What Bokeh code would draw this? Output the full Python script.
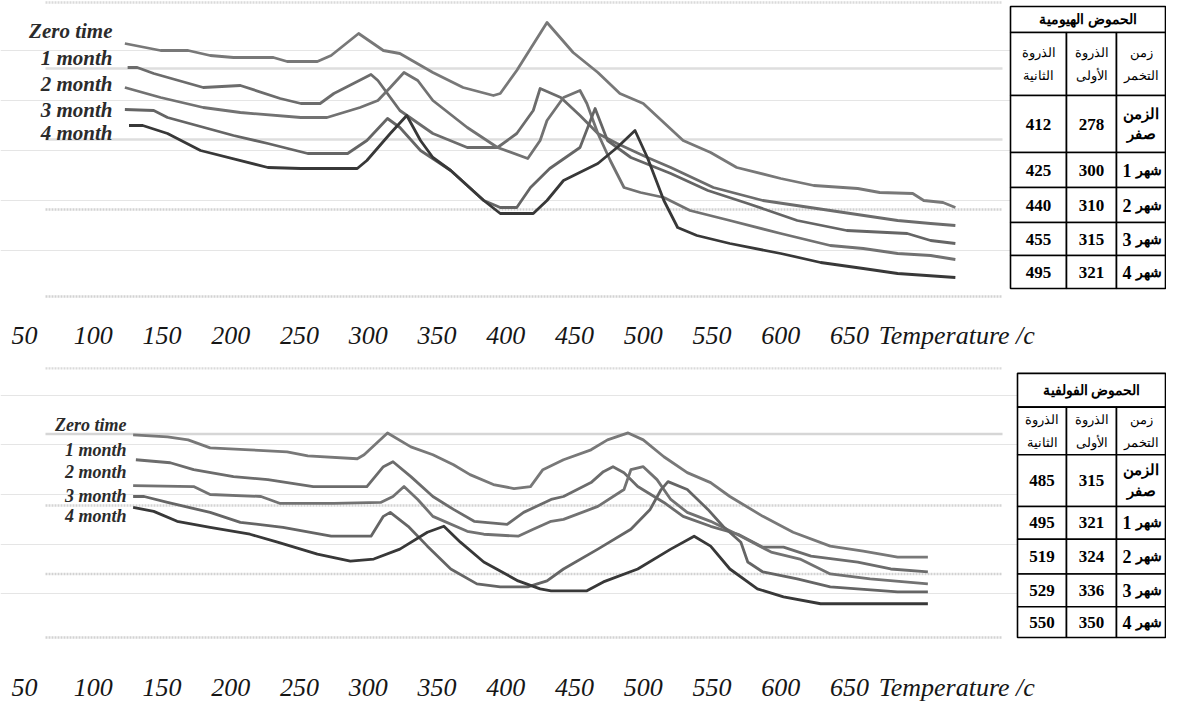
from bokeh.plotting import figure
from bokeh.models import Range1d, FixedTicker
from bokeh.layouts import column
from bokeh.embed import file_html
from bokeh.resources import INLINE
from bokeh.core.properties import value

# ---------------- data ----------------
series_names = ["Zero time", "1 month", "2 month", "3 month", "4 month"]
tick_temps = [50, 100, 150, 200, 250, 300, 350, 400, 450, 500, 550, 600, 650]
x_title = "Temperature /c"

# Humic acids (upper panel): temperature (C) and relative signal
ha_zero_T = [123, 149, 169, 185, 202, 231, 241, 263, 273, 293, 311, 323, 347, 369, 391, 396, 408, 430, 449, 467, 483, 500, 529, 549, 568, 600, 624, 656, 672, 696, 704, 718, 727]
ha_zero_S = [257, 250, 250, 245, 243, 243, 239, 239, 245, 267, 250, 247, 228, 213, 205, 207, 230, 278, 248, 228, 207, 197, 160, 148, 133, 122, 115, 112, 108, 107, 100, 98, 93]
ha_m1_T = [125, 132, 144, 180, 207, 236, 251, 265, 275, 302, 307, 323, 347, 372, 394, 408, 420, 425, 440, 454, 467, 481, 503, 520, 551, 587, 636, 685, 709, 727]
ha_m1_S = [233, 233, 227, 213, 215, 202, 197, 197, 207, 226, 220, 190, 167, 153, 153, 167, 190, 212, 203, 185, 167, 157, 143, 133, 113, 100, 90, 80, 77, 75]
ha_m2_T = [123, 149, 180, 207, 251, 270, 294, 307, 316, 326, 336, 347, 372, 394, 416, 425, 430, 442, 454, 459, 467, 476, 486, 498, 515, 534, 563, 600, 636, 660, 685, 709, 727]
ha_m2_S = [213, 203, 193, 188, 183, 183, 193, 200, 213, 228, 220, 200, 173, 153, 142, 160, 180, 203, 210, 197, 167, 140, 113, 108, 103, 90, 80, 67, 55, 52, 47, 45, 41]
ha_m3_T = [123, 144, 154, 202, 227, 256, 285, 299, 314, 323, 338, 360, 384, 396, 408, 418, 432, 454, 465, 474, 491, 520, 547, 576, 612, 648, 692, 709, 727]
ha_m3_S = [191, 190, 183, 165, 157, 147, 147, 160, 182, 173, 150, 130, 100, 93, 93, 113, 132, 153, 192, 160, 143, 127, 110, 97, 80, 70, 67, 60, 57]
ha_m4_T = [126, 136, 154, 178, 227, 251, 292, 299, 316, 328, 338, 347, 360, 384, 396, 420, 430, 442, 467, 481, 494, 503, 515, 525, 539, 563, 600, 629, 660, 685, 727]
ha_m4_S = [175, 175, 167, 150, 133, 132, 132, 140, 167, 185, 160, 143, 130, 100, 87, 87, 100, 120, 137, 153, 170, 143, 100, 73, 65, 57, 47, 38, 32, 27, 23]

# Fulvic acids (lower panel)
fa_zero_T = [129, 154, 169, 185, 214, 241, 256, 292, 297, 314, 331, 347, 362, 374, 391, 406, 418, 427, 442, 462, 474, 489, 500, 515, 532, 549, 563, 587, 609, 636, 660, 685, 707]
fa_zero_S = [210, 208, 205, 197, 195, 193, 189, 186, 190, 212, 198, 190, 180, 170, 160, 156, 158, 175, 185, 195, 205, 212, 205, 188, 172, 162, 148, 128, 112, 98, 93, 87, 87]
fa_m1_T = [131, 156, 173, 202, 227, 260, 299, 311, 318, 331, 347, 362, 377, 401, 413, 433, 442, 462, 471, 478, 486, 496, 515, 529, 549, 569, 587, 602, 622, 656, 680, 707]
fa_m1_S = [185, 182, 175, 168, 165, 158, 158, 178, 183, 168, 148, 135, 123, 120, 132, 145, 148, 162, 173, 178, 172, 158, 142, 128, 118, 110, 97, 97, 88, 82, 75, 72]
fa_m2_T = [129, 173, 185, 222, 236, 275, 309, 318, 326, 336, 347, 372, 384, 409, 420, 433, 442, 467, 486, 491, 500, 510, 520, 532, 549, 571, 593, 614, 636, 665, 707]
fa_m2_S = [159, 158, 150, 148, 141, 141, 142, 148, 158, 145, 128, 113, 110, 108, 115, 123, 125, 138, 155, 175, 178, 165, 145, 132, 123, 108, 92, 85, 70, 65, 60]
fa_m3_T = [129, 137, 154, 185, 207, 238, 273, 302, 311, 316, 329, 343, 360, 379, 396, 416, 430, 442, 467, 491, 505, 513, 518, 532, 547, 558, 571, 576, 587, 612, 636, 685, 707]
fa_m3_S = [148, 148, 142, 132, 122, 117, 108, 108, 128, 132, 118, 98, 75, 60, 57, 57, 63, 75, 95, 115, 135, 155, 163, 155, 135, 118, 102, 82, 72, 65, 57, 52, 52]
fa_m4_T = [129, 144, 161, 185, 214, 234, 263, 287, 304, 323, 343, 355, 367, 384, 409, 425, 433, 459, 471, 496, 520, 537, 549, 563, 583, 602, 629, 707]
fa_m4_S = [137, 133, 123, 117, 110, 102, 90, 83, 85, 95, 112, 118, 102, 82, 63, 55, 53, 53, 62, 75, 95, 108, 98, 75, 55, 47, 40, 40]

# Tables
ha_table_title = "الحموض الهيومية"
fa_table_title = "الحموض الفولفية"
header_time = "زمن\nالتخمر"
header_first = "الذروة\nالأولى"
header_second = "الذروة\nالثانية"
zero_row_label = "الزمن\nصفر"
month_word = "شهر"
month_numbers = ["1", "2", "3", "4"]
ha_first_peak = [278, 300, 310, 315, 321]
ha_second_peak = [412, 425, 440, 455, 495]
fa_first_peak = [315, 321, 324, 336, 350]
fa_second_peak = [485, 495, 519, 529, 550]

# ---------------- styling / layout ----------------
W = 1166
PX0, PX1 = 0, 1166               # pixel span of the frame
def t_at(px):                    # axis calibration: 50 C at px 24, 1.375 px per degree
    return 50 + (px - 24) / 1.375
TITLE_TICK = 728
line_colors = ["#787878", "#6c6c6c", "#727272", "#656565", "#383838"]
SERIF = "Liberation Serif"


def make_panel(top, fbottom, base, height, standoff, Ts, Ss, grids, label_right, label_ys,
               label_size, cols, rows, title, firsts, seconds):
    fh = fbottom - top
    p = figure(width=W, height=height, x_range=Range1d(t_at(PX0), t_at(PX1)),
               y_range=Range1d(base - fbottom, base - top), y_axis_location=None,
               toolbar_location=None, output_backend="svg", min_border_left=0,
               min_border_right=0, min_border_top=0, min_border_bottom=height - fh,
               outline_line_color=None, background_fill_color="white",
               border_fill_color="white")
    p.extra_x_ranges = {"px": Range1d(PX0, PX1)}
    p.extra_y_ranges = {"px": Range1d(fbottom, top)}
    p.xgrid.visible = False

    ax = p.xaxis[0]
    ax.ticker = FixedTicker(ticks=tick_temps + [TITLE_TICK])
    ax.major_label_overrides = {TITLE_TICK: x_title}
    ax.axis_line_color = None
    ax.major_tick_line_color = None
    ax.minor_tick_line_color = None
    ax.major_tick_out = 0
    ax.minor_tick_out = 0
    ax.major_tick_in = 0
    ax.major_label_standoff = standoff
    ax.major_label_text_font = SERIF
    ax.major_label_text_font_style = "italic"
    ax.major_label_text_font_size = "26px"
    ax.major_label_text_color = "#161616"

    # horizontal guide lines
    for gy, dash, col in grids:
        p.segment(x0=[45], x1=[1002], y0=[gy], y1=[gy], line_color=col, line_width=2.4,
                  line_dash=dash, x_range_name="px", y_range_name="px")

    # curves
    for T, S, c in zip(Ts, Ss, line_colors):
        p.line(T, S, line_color=c, line_width=2.8, line_join="round")

    # series labels
    p.text(x=[label_right] * 5, y=label_ys, text=series_names, text_align="right",
           text_baseline="middle", text_font=value(SERIF), text_font_style="bold italic",
           text_font_size=label_size, text_color="#2b2b2b", x_range_name="px", y_range_name="px")

    # table
    L, R, Tp, B = [cols[0]], [cols[3]], [rows[0]], [rows[1]]
    for r in range(1, 7):
        for c in range(3):
            L.append(cols[c]); R.append(cols[c + 1]); Tp.append(rows[r]); B.append(rows[r + 1])
    p.quad(left=L, right=R, top=Tp, bottom=B, fill_color="white", line_color="black",
           line_width=1.6, x_range_name="px", y_range_name="px")
    cx = [(cols[i] + cols[i + 1]) / 2 for i in range(3)]
    cy = [(rows[i] + rows[i + 1]) / 2 for i in range(7)]
    tk = dict(text_align="center", text_baseline="middle", text_color="black",
              x_range_name="px", y_range_name="px", text_font=value(SERIF))
    p.text(x=[(cols[0] + cols[3]) / 2], y=[cy[0]], text=[title], text_font_size="14px",
           text_font_style="bold", **tk)
    p.text(x=cx, y=[cy[1]] * 3, text=[header_second, header_first, header_time],
           text_font_size="13px", text_line_height=1.5, **tk)
    p.text(x=[cx[0]] * 5, y=cy[2:], text=[str(v) for v in seconds], text_font_size="17px",
           text_font_style="bold", **tk)
    p.text(x=[cx[1]] * 5, y=cy[2:], text=[str(v) for v in firsts], text_font_size="17px",
           text_font_style="bold", **tk)
    p.text(x=[cx[2]], y=[cy[2]], text=[zero_row_label], text_font_size="15px",
           text_font_style="bold", text_line_height=1.3, **tk)
    # "n شهر" rows: number on the left, word on the right (both centred)
    p.text(x=[cx[2] - 14] * 4, y=cy[3:], text=month_numbers, text_font_size="18px",
           text_font_style="bold", **tk)
    p.text(x=[cx[2] + 8] * 4, y=cy[3:], text=[month_word] * 4, text_font_size="14px",
           text_font_style="bold", **tk)
    return p


pA = make_panel(
    top=0, fbottom=300, base=300, height=352, standoff=20,
    Ts=[ha_zero_T, ha_m1_T, ha_m2_T, ha_m3_T, ha_m4_T],
    Ss=[ha_zero_S, ha_m1_S, ha_m2_S, ha_m3_S, ha_m4_S],
    grids=[(2, "2 1", "#dadada"), (68, "solid", "#dedede"), (139, "solid", "#dedede"),
           (209, "2 1", "#d2d2d2"), (296, "2 1", "#d2d2d2")],
    label_right=112, label_ys=[30, 57, 83, 109, 132], label_size="21px",
    cols=[1010, 1066, 1116, 1165], rows=[6, 32, 95, 152, 187, 222, 255, 288],
    title=ha_table_title, firsts=ha_first_peak, seconds=ha_second_peak)

pB = make_panel(
    top=352, fbottom=641, base=645, height=352, standoff=33,
    Ts=[fa_zero_T, fa_m1_T, fa_m2_T, fa_m3_T, fa_m4_T],
    Ss=[fa_zero_S, fa_m1_S, fa_m2_S, fa_m3_S, fa_m4_S],
    grids=[(368, "2 1", "#dadada"), (434, "solid", "#d6d6d6"), (506, "2 1", "#d4d4d4"),
           (575, "2 1", "#d2d2d2"), (639, "2 1", "#d2d2d2")],
    label_right=126, label_ys=[425, 450, 472, 496, 517], label_size="18px",
    cols=[1017, 1066, 1116, 1165], rows=[373, 407, 455, 507, 540, 575, 608, 639],
    title=fa_table_title, firsts=fa_first_peak, seconds=fa_second_peak)

layout = column(pA, pB, spacing=0)
open("out.html", "w").write(file_html(layout, INLINE))
